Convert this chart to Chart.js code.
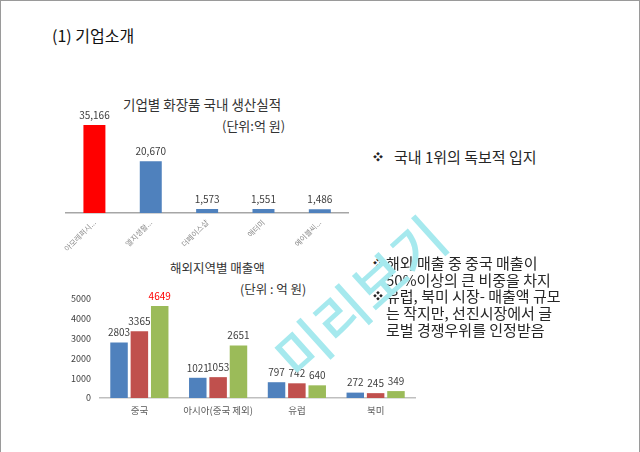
<!DOCTYPE html>
<html>
<head>
<meta charset="utf-8">
<script src="https://cdn.jsdelivr.net/npm/chart.js@4/dist/chart.umd.min.js"></script>
<style>
  html, body { margin: 0; padding: 0; background: #fff; }
  body { width: 640px; height: 452px; position: relative; overflow: hidden;
         font-family: "Noto Sans CJK KR", "Noto Sans", sans-serif; color: #262626; }
  .frame { position: absolute; left: 0; top: 0; width: 638px; height: 460px;
           border-left: 1px solid #9a9a9a; border-top: 1px solid #9a9a9a; border-right: 1px solid #9a9a9a; }
  .t { position: absolute; white-space: nowrap; line-height: 1; }
  canvas { position: absolute; }
  .mark { position: absolute; left: 255px; top: 334px; font-size: 56px; font-weight: 500;
          color: #a6e9ee; transform: rotate(-42deg); transform-origin: 0 0; white-space: nowrap; }
</style>
</head>
<body>
<div class="frame"></div>
<div class="t" style="left:52px;top:27px;font-size:16px;color:#111;">(1) 기업소개</div>

<div class="t" style="left:123px;top:98px;font-size:13.5px;color:#333;">기업별 화장품 국내 생산실적</div>
<div class="t" style="left:222px;top:119px;font-size:13px;color:#333;">(단위:억 원)</div>
<canvas id="chart-domestic" width="295" height="160" style="left:60px;top:95px;"></canvas>

<div class="t" style="left:170px;top:262px;font-size:12.5px;color:#333;">해외지역별 매출액</div>
<div class="t" style="left:240px;top:283px;font-size:12.5px;color:#333;">(단위 : 억 원)</div>
<canvas id="chart-overseas" width="360" height="138" style="left:60px;top:280px;"></canvas>

<div class="t" style="left:373px;top:152px;font-size:10px;color:#222;">❖</div>
<div class="t" style="left:394px;top:149px;font-size:15px;">국내 1위의 독보적 입지</div>

<div class="t" style="left:373px;top:258px;font-size:10px;color:#222;">❖</div>
<div class="t" style="left:373px;top:291px;font-size:10px;color:#222;">❖</div>
<div class="t" style="left:386px;top:255px;font-size:15px;line-height:16.7px;">해외 매출 중 중국 매출이<br>50%이상의 큰 비중을 차지<br>유럽, 북미 시장- 매출액 규모<br>는 작지만, 선진시장에서 글<br>로벌 경쟁우위를 인정받음</div>

<div class="mark">미리보기</div>

<script>
// 기업별 국내 생산실적 (억 원)
const companies = ['아모레퍼시...', '엘지생활...', '더페이스샵', '애터미', '에이블씨...'];
const production = [35166, 20670, 1573, 1551, 1486];

// 해외지역별 매출액 (억 원)
const regions = ['중국', '아시아(중국 제외)', '유럽', '북미'];
const sales1 = [2803, 1021, 797, 272];
const sales2 = [3365, 1053, 742, 245];
const sales3 = [4649, 2651, 640, 349];
const salesTicks = [0, 1000, 2000, 3000, 4000, 5000];

const FONT = '"Noto Sans CJK KR", "Noto Sans", sans-serif';
Chart.defaults.font.family = FONT;
Chart.defaults.animation = false;

// draws the value above each bar
const barValues = {
    id: 'barValues',
    afterDatasetsDraw(chart, args, opts) {
        const ctx = chart.ctx;
        ctx.save();
        ctx.font = (opts.size || 10) + 'px ' + FONT;
        ctx.textAlign = 'center';
        ctx.textBaseline = 'bottom';
        chart.data.datasets.forEach((ds, i) => {
            const meta = chart.getDatasetMeta(i);
            meta.data.forEach((bar, j) => {
                const v = ds.data[j];
                ctx.fillStyle = opts.color ? opts.color(i, j) : '#404040';
                const txt = opts.comma ? v.toLocaleString('en-US') : String(v);
                ctx.fillText(txt, bar.x, bar.y - (opts.gap || 4));
            });
        });
        ctx.restore();
    }
};

new Chart(document.getElementById('chart-domestic').getContext('2d'), {
    type: 'bar',
    data: {
        labels: companies,
        datasets: [{
            label: '생산실적',
            data: production,
            backgroundColor: (c) => c.dataIndex === 0 ? '#ff0000' : '#4f81bd',
            barPercentage: 0.39,
            categoryPercentage: 1
        }]
    },
    options: {
        responsive: false,
        layout: { padding: { top: 18, left: 6, right: 7, bottom: 0 } },
        plugins: {
            legend: { display: false },
            tooltip: { enabled: false },
            barValues: { size: 10, gap: 5, comma: true }
        },
        scales: {
            x: {
                grid: { display: false, drawTicks: false },
                border: { display: true, color: '#a6a6a6', width: 1.5 },
                ticks: { minRotation: 45, maxRotation: 45, autoSkip: false, padding: 5,
                         font: { size: 7.5 }, color: '#8c8c8c' },
                afterFit: (s) => { s.height = 42; }
            },
            y: { display: false, min: 0, max: 40000 }
        }
    },
    plugins: [barValues]
});

new Chart(document.getElementById('chart-overseas').getContext('2d'), {
    type: 'bar',
    data: {
        labels: regions,
        datasets: [
            { label: '계열1', data: sales1, backgroundColor: '#4f81bd' },
            { label: '계열2', data: sales2, backgroundColor: '#c0504d' },
            { label: '계열3', data: sales3, backgroundColor: '#9bbb59' }
        ]
    },
    options: {
        responsive: false,
        layout: { padding: { top: 19, left: 0, right: 5, bottom: 0 } },
        datasets: { bar: { barPercentage: 0.86, categoryPercentage: 0.775 } },
        plugins: {
            legend: { display: false },
            tooltip: { enabled: false },
            barValues: { size: 10, gap: 5, color: (i, j) => (i === 2 && j === 0) ? '#ff0000' : '#404040' }
        },
        scales: {
            x: {
                grid: { display: false, drawTicks: false },
                border: { display: true, color: '#bfbfbf', width: 1.5 },
                ticks: { padding: 7, font: { size: 9.5 }, color: '#595959' },
                afterFit: (s) => { s.height = 20; }
            },
            y: {
                min: salesTicks[0],
                max: salesTicks[salesTicks.length - 1],
                afterBuildTicks: (s) => { s.ticks = salesTicks.map(v => ({ value: v })); },
                grid: { display: false, drawTicks: false },
                border: { display: false },
                ticks: { padding: 9, font: { size: 9 }, color: '#404040', callback: (v) => String(v) },
                afterFit: (s) => { s.width = 40; }
            }
        }
    },
    plugins: [barValues]
});
</script>
</body>
</html>
